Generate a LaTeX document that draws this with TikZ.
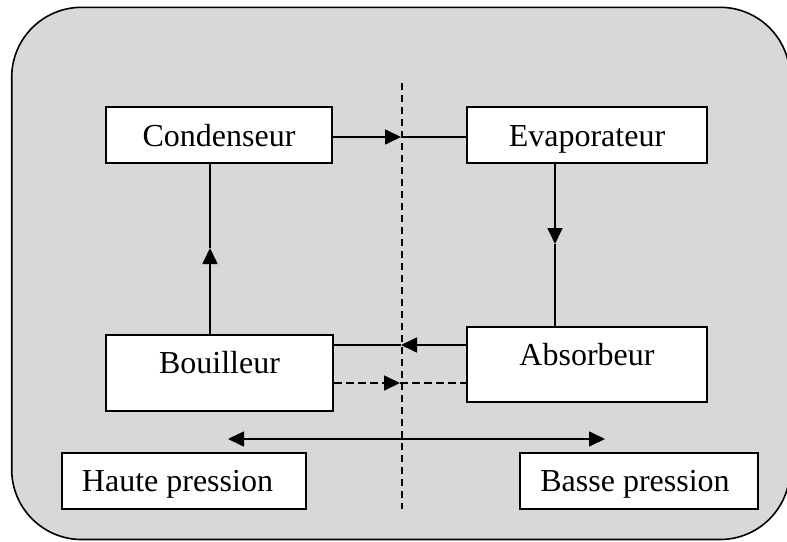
\documentclass[tikz,border=0pt]{standalone}
\usepackage{fontspec}
\setmainfont{Liberation Serif}
\usetikzlibrary{arrows.meta}
\definecolor{bggray}{RGB}{216,216,216}
\begin{document}
\begin{tikzpicture}[x=0.5pt,y=-0.5pt,
  box/.style={draw, fill=white, line width=1pt, inner sep=0pt,
    text height=11.4pt, text depth=0pt, font=\fontsize{16}{19}\selectfont},
  conn/.style={line width=0.85pt},
  tipr/.style={-{Triangle[length=8pt,width=7.5pt]}},
  dbl/.style={{Triangle[length=8pt,width=7.5pt]}-{Triangle[length=8pt,width=7.5pt]}},
  sep/.style={line width=0.75pt, dash pattern=on 3.5pt off 2.5pt},
  dline/.style={line width=0.85pt, dash pattern=on 4pt off 2pt}]
\useasboundingbox (0,0) rectangle (787,541);
\begin{scope}
\clip (0,0) rectangle (787,541);
\draw[fill=bggray, line width=0.8pt, rounded corners=35pt] (11.7,7.3) rectangle (790,539.5);
\end{scope}

% boxes
\node[box, minimum width=113pt, minimum height=28pt] (cond) at (219,135.3) {Condenseur};
\node[box, minimum width=120pt, minimum height=28pt] (evap) at (587,135.3) {Evaporateur};
\node[box, minimum width=113.5pt, minimum height=38pt, text depth=10.9pt] (bou) at (219.5,372.5) {Bouilleur};
\node[box, minimum width=120pt, minimum height=37.5pt, text depth=10.6pt] (abs) at (587,364.2) {Absorbeur};
\node[box, minimum width=122pt, minimum height=28pt, text depth=0.9pt] (haute) at (183.7,481.2) {Haute pression\hspace*{6.2pt}};
\node[box, minimum width=119pt, minimum height=28pt, text depth=0.9pt] (basse) at (639.2,481.2) {Basse pression\hspace*{4.2pt}};

% separator
\coordinate (st) at (402,83);
\coordinate (sb) at (402,509);
\draw[sep] (st) -- (sb);

% Condenseur -> Evaporateur
\coordinate (tm) at (401,137);
\draw[conn, tipr] (cond.east |- tm) -- (tm);
\draw[conn] (tm) -- (evap.west |- tm);

% Bouilleur -> Condenseur
\coordinate (lm) at (210,248);
\draw[conn, tipr] (bou.north -| lm) -- (lm);
\draw[conn] (lm) -- (cond.south -| lm);

% Evaporateur -> Absorbeur
\coordinate (rm) at (555,244);
\draw[conn, tipr] (evap.south -| rm) -- (rm);
\draw[conn] (rm) -- (abs.north -| rm);

% Absorbeur -> Bouilleur
\coordinate (um) at (401,345);
\draw[conn, tipr] (abs.west |- um) -- (um);
\draw[conn] (um) -- (bou.east |- um);

% Bouilleur -> Absorbeur (dashed)
\coordinate (dm) at (400,383);
\draw[dline, tipr] (bou.east |- dm) -- (dm);
\draw[dline] (dm) -- (abs.west |- dm);

% pressure arrow
\coordinate (pl) at (228,439);
\coordinate (pr) at (605,439);
\draw[conn, dbl] (pl) -- (pr);
\end{tikzpicture}
\end{document}
